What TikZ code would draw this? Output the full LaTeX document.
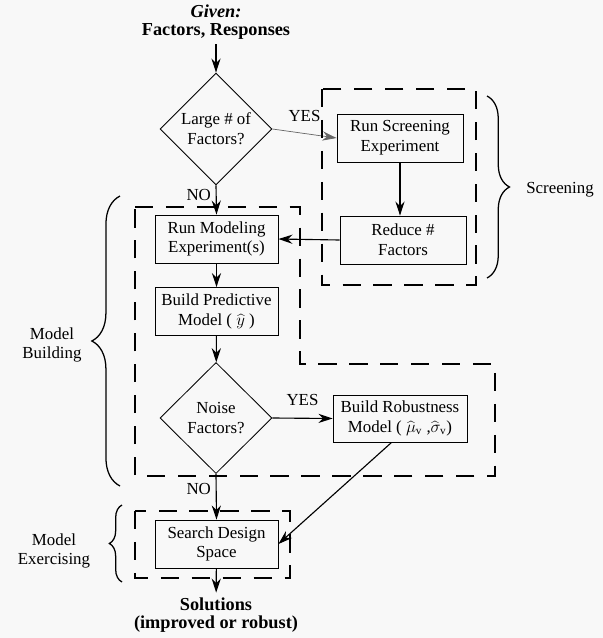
\documentclass[tikz,border=0pt]{standalone}
\usepackage{fontspec}
\setmainfont{Liberation Serif}
\usetikzlibrary{arrows.meta,shapes.geometric,decorations.pathreplacing,positioning}
\definecolor{paper}{HTML}{F8F8F8}

\begin{document}
\begin{tikzpicture}[x=0.025cm, y=-0.025cm, >={Stealth[length=10pt,width=6.5pt]},
    every node/.style={font=\fontsize{12}{14}\selectfont},
    stepbox/.style={draw, line width=0.6pt, align=center, minimum width=3.075cm, minimum height=1.2cm, inner sep=1pt},
    decision/.style={diamond, draw, line width=0.6pt, align=center, minimum width=2.8cm, minimum height=2.8cm, inner sep=0pt},
    phase/.style={draw, line width=1.4pt, dash pattern=on 13pt off 9pt},
    phasebrace/.style={decorate, decoration={brace, amplitude=#1}, line width=0.9pt},
    flow/.style={->, line width=0.8pt},
    endtext/.style={align=center, font=\fontsize{13}{13}\selectfont\bfseries}]
    \fill[paper] (0,0) rectangle (603,638);
    \useasboundingbox (0,0) rectangle (603,638);

    % Nodes
    \node (given) [endtext] at (216,22) {\textit{Given:}\\Factors, Responses};
    \node (large) [decision] at (216,129) {Large \# of\\Factors?};
    \node (screen) [stepbox, minimum width=3.15cm] at (400,138) {Run  Screening\\Experiment};
    \node (reduce) [stepbox, minimum width=3.15cm] at (403,240) {Reduce \#\\Factors};
    \node (modeling) [stepbox] at (216.5,239) {Run  Modeling\\Experiment(s)};
    \node (predict) [stepbox] at (216.5,311.5) {Build Predictive\\Model ( $\widehat{y}$ )};
    \node (noise) [decision, minimum height=2.775cm] at (216,418) {Noise\\Factors?};
    \node (robust) [stepbox, minimum width=3.35cm, minimum height=1.175cm] at (400,418.5) {Build Robustness\\Model ( $\widehat{\mu}_{\mathrm{v}}$ ,$\widehat{\sigma}_{\mathrm{v}}$)};
    \node (search) [stepbox] at (216.5,544) {Search Design\\Space};
    \node (solutions) [endtext] at (216,615) {Solutions\\(improved or robust)};

    % Arrows for the flow
    \draw[flow] (given) -- (large);
    \draw[->, line width=0.5pt, draw=black!60] (large.east) -- (screen.west) node[midway, above=5pt, black] {YES};
    \draw[flow] (screen.south) -- (screen.south |- reduce.north);
    \draw[flow] (reduce.west) -- (modeling.east);
    \draw[flow] (large.south) -- (modeling.north) node[pos=0.33, left] {NO};
    \draw[flow] (modeling) -- (predict);
    \draw[flow] (predict) -- (noise);
    \draw[flow] (noise.east) -- (robust.west) node[midway, above=5pt] {YES};
    \draw[flow] (noise.south) -- (search.north) node[pos=0.34, left] {NO};
    \draw[flow] ([xshift=-6pt]robust.south) -- (search.east);
    \draw[flow] (search) -- (solutions);

    % Dashed phases
    \draw[phase] (322,89) rectangle (476,285);
    \draw[phase] (135,207) -- (300,207) -- (300,364) -- (495,364) -- (495,476) -- (135,476) -- cycle;
    \draw[phase] (135,511) rectangle (290,578);

    % Braces with phase names
    \draw[phasebrace=16pt] (487,96) -- (487,278);
    \node (screening) at (560,190) {Screening};
    \draw[phasebrace=20pt] (120,486) -- (120,196);
    \node (building) [align=center] at (52,345) {Model\\Building};
    \draw[phasebrace=9pt] (122,582) -- (122,505);
    \node (exercising) [align=center] at (54,551) {Model\\Exercising};
\end{tikzpicture}
\end{document}
